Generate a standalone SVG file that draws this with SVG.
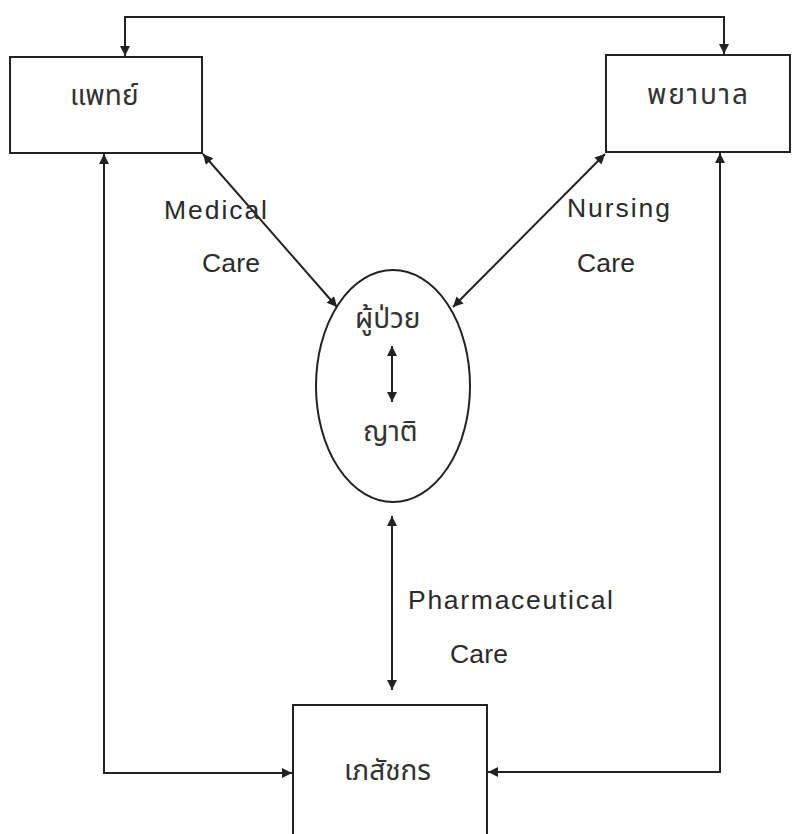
<svg xmlns="http://www.w3.org/2000/svg" width="794" height="834" viewBox="0 0 794 834">
<style>
.box{fill:#fff;stroke:#222;stroke-width:2}
.ln{fill:none;stroke:#222;stroke-width:2}
.th{font-family:"Noto Sans Thai","Noto Sans Thai UI","Loma","Garuda","Norasi","Tlwg Typo","DejaVu Sans",sans-serif;font-size:28px;fill:#333}
.en{font-family:"Liberation Sans",Arial,sans-serif;font-size:26.5px;fill:#2a2a2a}
</style>
<defs>
<marker id="ah" viewBox="0 0 10 10" refX="10" refY="5" markerWidth="11" markerHeight="10" markerUnits="userSpaceOnUse" orient="auto-start-reverse">
<path d="M0,0 L10,5 L0,10 z" fill="#222"/>
</marker>
</defs>
<rect width="794" height="834" fill="#fff"/>
<g id="doctor">
<rect class="box" x="10" y="57" width="192" height="96"/>
<text class="th" x="70" y="105">แพทย์</text>
</g>
<g id="nurse">
<rect class="box" x="606" y="55" width="184" height="97"/>
<text class="th" x="647" y="104" textLength="101" lengthAdjust="spacing">พยาบาล</text>
</g>
<g id="patient">
<ellipse class="box" cx="393" cy="386" rx="77" ry="116"/>
<text class="th" x="355" y="328">ผู้ป่วย</text>
<text class="th" x="363" y="441">ญาติ</text>
</g>
<g id="pharmacist">
<rect class="box" x="293" y="705" width="194" height="140"/>
<text class="th" x="344" y="780">เภสัชกร</text>
</g>
<g id="connectors">
<path class="ln" d="M125,56 V17 H724 V54" marker-start="url(#ah)" marker-end="url(#ah)"/>
<path class="ln" d="M104,154 V773 H292" marker-start="url(#ah)" marker-end="url(#ah)"/>
<path class="ln" d="M720,153 V772 H488" marker-start="url(#ah)" marker-end="url(#ah)"/>
<path class="ln" d="M203,154 L337,307" marker-start="url(#ah)" marker-end="url(#ah)"/>
<path class="ln" d="M605,154 L453,307" marker-start="url(#ah)" marker-end="url(#ah)"/>
<path class="ln" d="M392,346 V402" marker-start="url(#ah)" marker-end="url(#ah)"/>
<path class="ln" d="M392,516 V690" marker-start="url(#ah)" marker-end="url(#ah)"/>
<text class="en" x="164" y="219" textLength="103">Medical</text>
<text class="en" x="202" y="272" textLength="58">Care</text>
<text class="en" x="567" y="217" textLength="103">Nursing</text>
<text class="en" x="577" y="272" textLength="58">Care</text>
<text class="en" x="408" y="609" textLength="205">Pharmaceutical</text>
<text class="en" x="450" y="663" textLength="58">Care</text>
</g>
</svg>
